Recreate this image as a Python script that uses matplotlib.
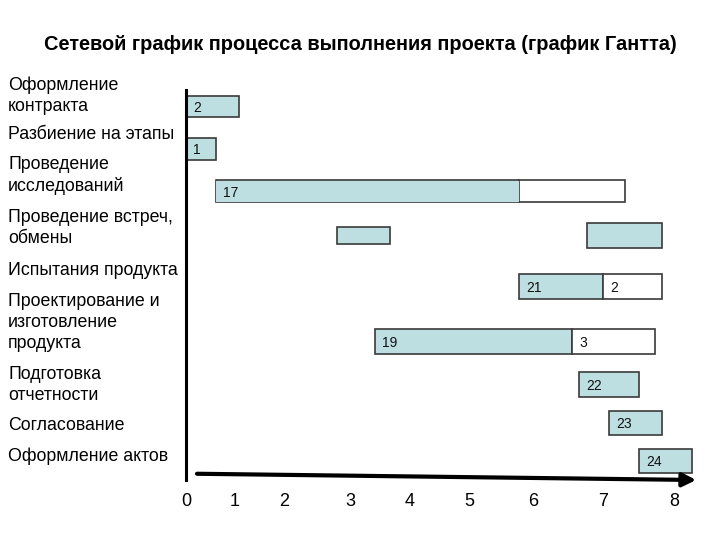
import matplotlib
matplotlib.use("Agg")
import matplotlib.pyplot as plt
import matplotlib.transforms as mtransforms
import numpy as np

plt.rcParams['font.family'] = ['Liberation Sans', 'DejaVu Sans']

title = 'Сетевой график процесса выполнения проекта (график Гантта)'

# task names (left column) and where their text sits, in row units (0 = top)
tasks = ['Оформление\nконтракта', 'Разбиение на этапы', 'Проведение\nисследований',
         'Проведение встреч,\nобмены', 'Испытания продукта',
         'Проектирование и\nизготовление\nпродукта', 'Подготовка\nотчетности',
         'Согласование', 'Оформление актов']
task_y = [0.17, 1.06, 2.00, 3.19, 4.16, 5.35, 6.78, 7.72, 8.42]

# time axis: labels 0..8 are spaced unevenly on the original slide
tick_vals = [0, 1, 2, 3, 4, 5, 6, 7, 8]
tick_span = [0, 48.3, 98.3, 164.4, 224.0, 283.3, 347.2, 416.9, 488.3]

# bar segments: start, end (time units), row centre, height, filled?, text
seg_start = [0.00, 0.00, 0.62, 5.78, 2.80, 6.77, 5.78, 7.00, 3.41, 6.56, 6.66, 7.09, 7.51]
seg_end = [1.10, 0.62, 5.78, 7.31, 3.66, 7.83, 7.00, 7.83, 6.56, 7.73, 7.51, 7.83, 8.25]
seg_y = [0.42, 1.39, 2.36, 2.36, 3.37, 3.37, 4.53, 4.53, 5.79, 5.79, 6.77, 7.65, 8.52]
seg_h = [0.48, 0.50, 0.50, 0.50, 0.39, 0.57, 0.57, 0.57, 0.57, 0.57, 0.57, 0.55, 0.55]
seg_fill = [True, True, True, False, True, True, True, False, True, False, True, True, True]
seg_text = ['2', '1', '17', '', '', '', '21', '2', '19', '3', '22', '23', '24']


def fwd(x):
    x = np.asarray(x, dtype=float)
    y = np.interp(x, tick_vals, tick_span)
    lo = tick_span[0] + x * (tick_span[1] - tick_span[0])
    hi = tick_span[-1] + (x - 8) * (tick_span[-1] - tick_span[-2])
    return np.where(x < 0, lo, np.where(x > 8, hi, y))


def inv(y):
    y = np.asarray(y, dtype=float)
    x = np.interp(y, tick_span, tick_vals)
    lo = (y - tick_span[0]) / (tick_span[1] - tick_span[0])
    hi = 8 + (y - tick_span[-1]) / (tick_span[-1] - tick_span[-2])
    return np.where(y < tick_span[0], lo, np.where(y > tick_span[-1], hi, x))


fig = plt.figure(figsize=(7.2, 5.4), dpi=100)
ax = fig.add_axes([186 / 720, 1 - 482 / 540, 514 / 720, 394 / 540])
ax.set_xscale('function', functions=(fwd, inv))
ax.set_xlim(0, 8.36)
ax.set_ylim(9, 0)

fill_col = '#BEDFE2'
edge_col = '#3a3a3a'

for s, e, y, h, f, t in zip(seg_start, seg_end, seg_y, seg_h, seg_fill, seg_text):
    ax.barh(y, e - s, left=s, height=h, color=fill_col if f else 'white',
            edgecolor=edge_col, linewidth=1.2, zorder=2)
    if t:
        ax.annotate(t, (s, y), xytext=(5, 0), textcoords='offset points',
                    va='center_baseline', ha='left', fontsize=10, color='#111111',
                    zorder=3)

# the "17" bar has no divider: redraw its filled part without an edge over the line
ax.barh(seg_y[2], seg_end[2] - seg_start[2] - 0.02, left=seg_start[2] + 0.01,
        height=seg_h[2] - 0.03, color=fill_col, linewidth=0, zorder=2.5)

for sp in ax.spines.values():
    sp.set_visible(False)
ax.set_yticks([])
ax.set_xticks(tick_vals)
ax.set_xticklabels([str(v) for v in tick_vals], fontsize=13)
ax.tick_params(axis='x', length=0, pad=8)

# vertical axis line and arrow along the bottom
ax.plot([0, 0], [0.005, 0.995], transform=ax.transAxes, color='black', lw=2.2,
        clip_on=False, zorder=4)
ax.annotate('', xy=(0.998, 0.005), xytext=(0.016, 0.021), xycoords='axes fraction',
            arrowprops=dict(arrowstyle='-|>', lw=3, color='black', mutation_scale=20),
            zorder=4)

trans = mtransforms.blended_transform_factory(fig.transFigure, ax.transData)
for name, y in zip(tasks, task_y):
    ax.text(8 / 720, y, name, transform=trans, ha='left', va='center', fontsize=12.8,
            linespacing=1.3, clip_on=False)

fig.text(0.5, 1 - 45 / 540, title, ha='center', va='center', fontsize=14.4,
         fontweight='bold')

fig.savefig('out.png', dpi=100)
